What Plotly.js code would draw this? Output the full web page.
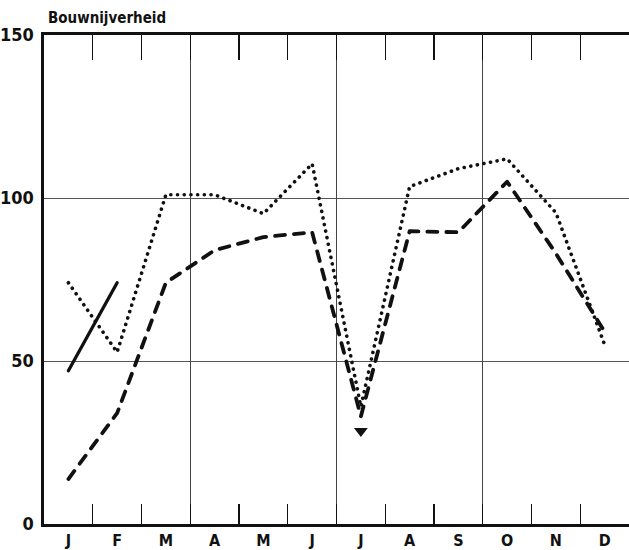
<!DOCTYPE html>
<html>
<head>
<meta charset="utf-8">
<script src="https://cdn.plot.ly/plotly-3.0.1.min.js"></script>
<style>
html,body{margin:0;padding:0;background:#fff;}
#chart{width:629px;height:550px;}
.js-line{stroke-linecap:round;stroke-linejoin:round;}
</style>
</head>
<body>
<div id="chart"></div>
<script>
const months = ['J','F','M','A','M','J','J','A','S','O','N','D'];
const dottedValues = [74, 52.7, 101, 101, 95.2, 110.5, 36, 103.5, 109, 112, 95.5, 55];
const dashedValues = [13.8, 34, 74, 84, 88, 89.5, 33, 89.8, 89.5, 105, 83, 59];
const solidValues  = [47, 74, null, null, null, null, null, null, null, null, null, null];
const arrowMonth = [6];
const arrowValue = [28.5];
const yTicks = [0, 50, 100, 150];
const quarterBounds = [2.5, 5.5, 8.5];
const monthBounds = [0.5,1.5,2.5,3.5,4.5,5.5,6.5,7.5,8.5,9.5,10.5];

const idx = months.map((m,i)=>i);
const fam = 'DejaVu Sans Condensed, DejaVu Sans, sans-serif';
const font = {family:fam, color:'#111'};

const traces = [
  {x: idx, y: dottedValues, type:'scatter', mode:'lines',
   line:{color:'#111', width:3.6, dash:'0.1px,6.6px'}},
  {x: idx, y: dashedValues, type:'scatter', mode:'lines',
   line:{color:'#111', width:3.8, dash:'10px,9px'}},
  {x: idx, y: solidValues, type:'scatter', mode:'lines', connectgaps:false,
   line:{color:'#111', width:3.3}},
  {x: arrowMonth, y: arrowValue, type:'scatter', mode:'markers',
   marker:{symbol:'triangle-down', size:12, color:'#111'}},
  {x: idx, y: dashedValues, xaxis:'x2', type:'scatter', mode:'none', hoverinfo:'skip', showlegend:false}
];

const layout = {
  width:629, height:550,
  margin:{l:44, r:0, t:35, b:26, pad:0},
  paper_bgcolor:'#fff', plot_bgcolor:'#fff',
  showlegend:false,
  font: font,
  title:{text:'Bouwnijverheid', x:48/629, xanchor:'left', y:1-18/550, yanchor:'middle',
         font:{family:fam, size:15, weight:'bold', color:'#111'}},
  xaxis:{range:[-0.5,11.5], tickmode:'array', tickvals:idx, ticktext:months,
         ticks:'', showgrid:false, zeroline:false, fixedrange:true,
         showline:true, linecolor:'#111', linewidth:2.6, mirror:false,
         tickfont:{family:fam, size:16, weight:'bold', color:'#111'},
         minor:{tickmode:'array', tickvals:monthBounds, ticks:'inside', ticklen:20, tickwidth:1.2, tickcolor:'#111', showgrid:false}},
  xaxis2:{range:[-0.5,11.5], overlaying:'x', side:'top', tickmode:'array', tickvals:quarterBounds,
          showticklabels:false, ticks:'', showgrid:true, gridcolor:'#444', gridwidth:1.1,
          zeroline:false, fixedrange:true,
          showline:true, linecolor:'#111', linewidth:2.6,
          minor:{tickmode:'array', tickvals:monthBounds, ticks:'inside', ticklen:25, tickwidth:1.2, tickcolor:'#111', showgrid:false}},
  yaxis:{range:[0,150], tickmode:'array', tickvals:yTicks, ticks:'', showgrid:true,
         gridcolor:'#555', gridwidth:1, zeroline:false, fixedrange:true,
         showline:true, linecolor:'#111', linewidth:2.6,
         tickfont:{family:fam, size:18, weight:'bold', color:'#111'}, ticklabelstandoff:4}
};

Plotly.newPlot('chart', traces, layout, {staticPlot:true, displayModeBar:false});
</script>
</body>
</html>
